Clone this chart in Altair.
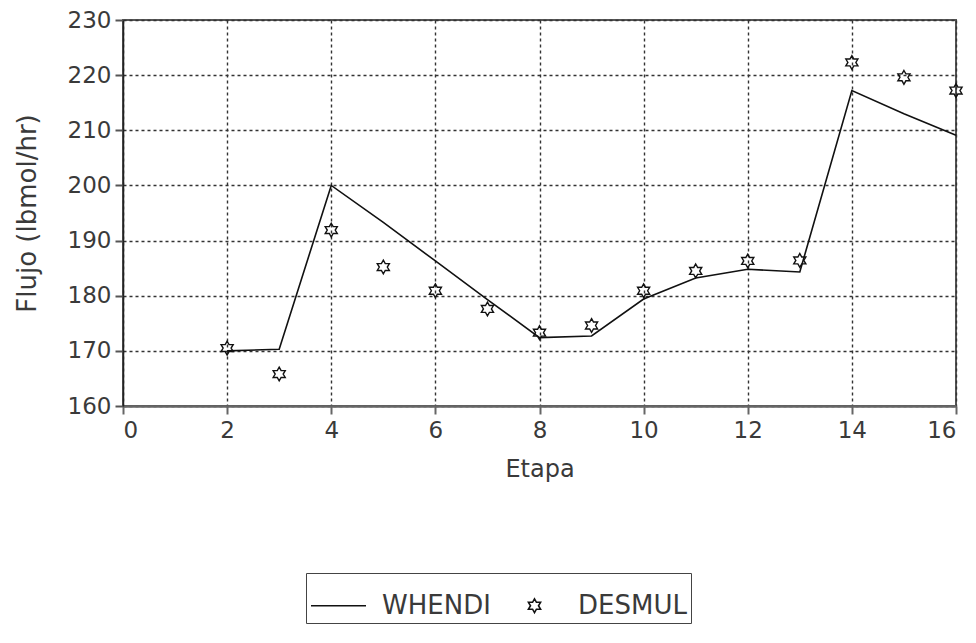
import altair as alt
import pandas as pd

etapa = [2, 3, 4, 5, 6, 7, 8, 9, 10, 11, 12, 13, 14, 15, 16]
whendi = [170.0, 170.3, 200.0, 193.3, 186.3, 179.3, 172.4, 172.7, 179.4, 183.2, 184.8, 184.3, 217.2, 213.0, 209.1]
desmul = [170.5, 165.8, 191.9, 185.2, 180.9, 177.6, 173.3, 174.6, 180.9, 184.5, 186.3, 186.4, 222.3, 219.6, 217.2]
series_names = ["WHENDI", "DESMUL"]
x_ticks = [0, 2, 4, 6, 8, 10, 12, 14, 16]
y_ticks = [160, 170, 180, 190, 200, 210, 220, 230]

# legend/marker glyphs in unit coordinates (scaled by the symbol size)
LINE_GLYPH = "M-1,0L1,0"
STAR_GLYPH = ("M0,-0.25L0.07,-0.125L0.22,-0.125L0.145,0L0.22,0.125L0.07,0.125L0,0.25"
              "L-0.07,0.125L-0.22,0.125L-0.145,0L-0.22,-0.125L-0.07,-0.125Z")

df_line = pd.DataFrame({"Etapa": etapa, "Flujo": whendi, "serie": series_names[0]})
df_pts = pd.DataFrame({"Etapa": etapa, "Flujo": desmul, "serie": series_names[1]})

FONT = "DejaVu Sans"
TXT = "#3a3a3a"

x_enc = alt.X("Etapa:Q",
              scale=alt.Scale(domain=[0, 16], nice=False),
              axis=alt.Axis(title="Etapa", values=x_ticks, format="d",
                            grid=True, gridDash=[3, 3], gridColor="#333", gridWidth=1.4,
                            gridOpacity=1,
                            domainColor="#666", domainWidth=2.5,
                            tickColor="#666", tickWidth=2, tickSize=8,
                            labelFont=FONT, labelFontSize=23, labelColor=TXT, labelPadding=5,
                            titleFont=FONT, titleFontSize=24, titleColor=TXT,
                            titleFontWeight="normal", titlePadding=15))
y_enc = alt.Y("Flujo:Q",
              scale=alt.Scale(domain=[160, 230], nice=False, zero=False),
              axis=alt.Axis(title="Flujo (lbmol/hr)", values=y_ticks, format="d",
                            grid=True, gridDash=[3, 3], gridColor="#333", gridWidth=1.4,
                            gridOpacity=1,
                            domainColor="#222", domainWidth=1.5,
                            tickColor="#555", tickWidth=2, tickSize=8,
                            labelFont=FONT, labelFontSize=23, labelColor=TXT, labelPadding=4,
                            titleFont=FONT, titleFontSize=26, titleColor=TXT,
                            titleFontWeight="normal", titlePadding=27))

legend = alt.Legend(
    title=None, orient="none", legendX=183, legendY=553, direction="horizontal",
    strokeColor="#444", padding=4, symbolSize=3025,
    labelFont=FONT, labelFontSize=26, labelColor=TXT, labelOffset=15,
    columnPadding=15, labelLimit=300,
    symbolStrokeColor="#111", symbolFillColor="transparent", symbolStrokeWidth=1.6,
    symbolOpacity=1,
)

shape = alt.Shape("serie:N",
                  scale=alt.Scale(domain=series_names, range=[LINE_GLYPH, STAR_GLYPH]),
                  legend=legend)

line = alt.Chart(df_line).mark_line(strokeWidth=1.6, color="#111").encode(x=x_enc, y=y_enc)
pts = alt.Chart(df_pts).mark_point(filled=False, color="#111", size=3025,
                                   strokeWidth=1.4, opacity=1).encode(
    x=x_enc, y=y_enc, shape=shape)

chart = alt.layer(line, pts).properties(
    width=833, height=386,
    autosize=alt.AutoSizeParams(type="none"),
    padding={"left": 115, "top": 12, "right": 10, "bottom": 229},
    background="white",
).configure_view(stroke="#555", strokeWidth=2)

chart.save("out.html", embed_options={"renderer": "svg", "actions": False})
